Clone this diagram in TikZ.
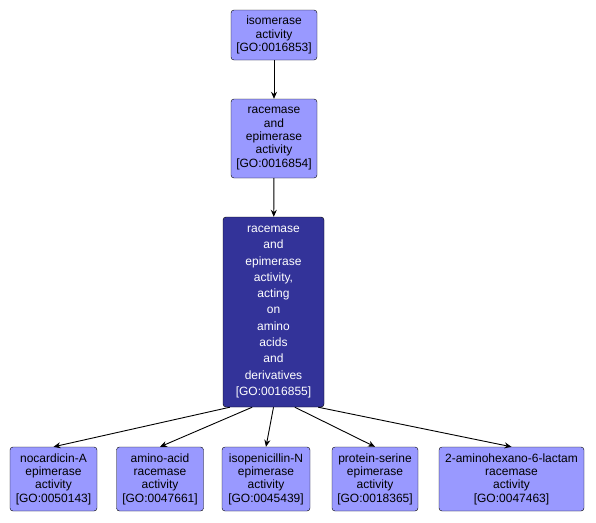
\documentclass[tikz,border=0pt]{standalone}
\usepackage{fontspec}
\setmainfont{Liberation Sans}
\usetikzlibrary{arrows.meta,positioning,calc}
\definecolor{golight}{RGB}{153,153,255}
\definecolor{godark}{RGB}{51,51,153}

\begin{document}
\begin{tikzpicture}[
    x=1pt, y=-1pt,
    block/.style={rectangle, rounded corners=3pt, draw, fill=golight, inner sep=0pt, align=center,
        font=\fontsize{12}{13.3}\selectfont},
    edge/.style={-{Stealth[length=7pt,width=6pt]}, line width=0.9pt}
]
\useasboundingbox (0,0) rectangle (596,522);

\node[block, minimum width=86pt, minimum height=50pt] (iso) at (274, 35) {isomerase\\activity\\{[GO:0016853]}};
\node[block, minimum width=86pt, minimum height=79pt] (race) at (274, 138.5) {racemase\\and\\epimerase\\activity\\{[GO:0016854]}};
\node[block, fill=godark, text=white, minimum width=101pt, minimum height=190pt,
    font=\fontsize{12}{16.3}\selectfont] (amino) at (273.5, 312) {racemase\\and\\epimerase\\activity,\\acting\\on\\amino\\acids\\and\\derivatives\\{[GO:0016855]}};

\node[block, minimum width=87pt, minimum height=64pt] (nocard) at (53.5, 479) {nocardicin-A\\epimerase\\activity\\{[GO:0050143]}};
\node[block, minimum width=87pt, minimum height=64pt] (aacid) at (160, 479) {amino-acid\\racemase\\activity\\{[GO:0047661]}};
\node[block, minimum width=88pt, minimum height=64pt] (isopen) at (266, 479) {isopenicillin-N\\epimerase\\activity\\{[GO:0045439]}};
\node[block, minimum width=86pt, minimum height=64pt] (pserine) at (375, 479) {protein-serine\\epimerase\\activity\\{[GO:0018365]}};
\node[block, minimum width=145pt, minimum height=64pt] (lactam) at (511.5, 479) {2-aminohexano-6-lactam\\racemase\\activity\\{[GO:0047463]}};

\draw[edge] (iso) -- (race);
\draw[edge] (race) -- (amino);

\draw[edge] ($(amino.south west)!0.07!(amino.south east)$) -- (nocard.north);
\draw[edge] ($(amino.south west)!0.29!(amino.south east)$) -- (aacid.north);
\draw[edge] ($(amino.south west)!0.5!(amino.south east)$) -- (isopen.north);
\draw[edge] ($(amino.south west)!0.71!(amino.south east)$) -- (pserine.north);
\draw[edge] ($(amino.south west)!0.94!(amino.south east)$) -- (lactam.north);

\end{tikzpicture}
\end{document}
